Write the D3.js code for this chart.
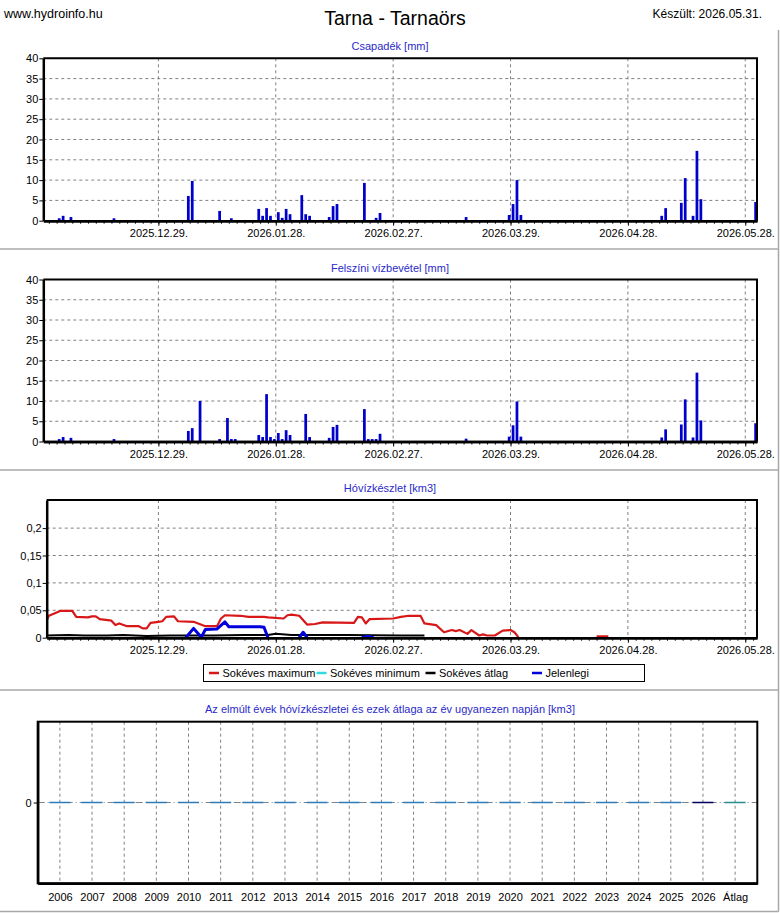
<!DOCTYPE html>
<html>
<head>
<meta charset="utf-8">
<script src="https://cdn.jsdelivr.net/npm/d3@7"></script>
<style>
  body { margin: 0; background: #fff; }
  svg text { font-family: "Liberation Sans", Arial, sans-serif; }
</style>
</head>
<body>
<script>
// ---- adatok ----
const tickLabels = ['2025.12.29.', '2026.01.28.', '2026.02.27.', '2026.03.29.', '2026.04.28.', '2026.05.28.']

// Csapadék [mm]
const csapDates = ['2025-12-03', '2025-12-04', '2025-12-06', '2025-12-17', '2026-01-05', '2026-01-06', '2026-01-13', '2026-01-16',
    '2026-01-23', '2026-01-24', '2026-01-25', '2026-01-26', '2026-01-28', '2026-01-29', '2026-01-30', '2026-01-31',
    '2026-02-03', '2026-02-04', '2026-02-05', '2026-02-10', '2026-02-11', '2026-02-12', '2026-02-19', '2026-02-22',
    '2026-02-23', '2026-03-17', '2026-03-28', '2026-03-29', '2026-03-30', '2026-03-31', '2026-05-06', '2026-05-07',
    '2026-05-11', '2026-05-12', '2026-05-14', '2026-05-15', '2026-05-16', '2026-05-30']
const csapValues = [0.6, 1.2, 0.9, 0.6, 6.1, 9.8, 2.4, 0.6,
    2.9, 1.2, 3.1, 1.2, 2.1, 0.7, 2.9, 1.6,
    6.3, 1.6, 1.2, 0.9, 3.6, 4.1, 9.3, 0.7,
    1.9, 0.9, 1.4, 4.1, 10.0, 1.4, 1.2, 3.1,
    4.4, 10.5, 1.2, 17.2, 5.3, 4.6]

// Felszíni vízbevétel [mm]
const vizDates = ['2025-12-03', '2025-12-04', '2025-12-06', '2025-12-17', '2026-01-05', '2026-01-06', '2026-01-08', '2026-01-13',
    '2026-01-15', '2026-01-16', '2026-01-17', '2026-01-23', '2026-01-24', '2026-01-25', '2026-01-26', '2026-01-27',
    '2026-01-28', '2026-01-29', '2026-01-30', '2026-01-31', '2026-02-04', '2026-02-05', '2026-02-10', '2026-02-11',
    '2026-02-12', '2026-02-19', '2026-02-20', '2026-02-21', '2026-02-22', '2026-02-23', '2026-03-17', '2026-03-28',
    '2026-03-29', '2026-03-30', '2026-03-31', '2026-05-06', '2026-05-07', '2026-05-11', '2026-05-12', '2026-05-14',
    '2026-05-15', '2026-05-16', '2026-05-30']
const vizValues = [0.6, 1.1, 0.9, 0.6, 2.6, 3.3, 10.0, 0.6,
    5.8, 0.6, 0.6, 1.6, 1.1, 11.7, 1.1, 0.6,
    2.1, 0.6, 2.8, 1.6, 6.8, 1.1, 0.9, 3.6,
    4.1, 8.0, 0.6, 0.6, 0.6, 1.9, 0.7, 1.2,
    4.0, 9.9, 1.2, 1.0, 3.0, 4.2, 10.4, 1.0,
    17.0, 5.2, 4.5]

// Hóvízkészlet [km3] - Sokéves maximum
const maxDates = ['2025-11-30', '2025-12-01', '2025-12-03', '2025-12-04', '2025-12-07', '2025-12-08', '2025-12-11', '2025-12-12',
    '2025-12-13', '2025-12-14', '2025-12-17', '2025-12-18', '2025-12-19', '2025-12-21', '2025-12-24', '2025-12-25',
    '2025-12-26', '2025-12-27', '2025-12-29', '2025-12-30', '2025-12-31', '2026-01-02', '2026-01-03', '2026-01-07',
    '2026-01-10', '2026-01-13', '2026-01-14', '2026-01-15', '2026-01-19', '2026-01-21', '2026-01-25', '2026-01-26',
    '2026-01-30', '2026-01-31', '2026-02-01', '2026-02-03', '2026-02-05', '2026-02-07', '2026-02-09', '2026-02-17',
    '2026-02-18', '2026-02-19', '2026-02-20', '2026-02-21', '2026-02-27', '2026-03-01', '2026-03-03', '2026-03-06',
    '2026-03-07', '2026-03-10', '2026-03-12', '2026-03-14', '2026-03-15', '2026-03-16', '2026-03-18', '2026-03-19',
    '2026-03-21', '2026-03-22', '2026-03-23', '2026-03-25', '2026-03-27', '2026-03-29', '2026-03-30', '2026-03-31',
    '2026-04-01', '2026-04-20', '2026-04-23']
const maxValues = [0.025, 0.040, 0.046, 0.049, 0.049, 0.038, 0.037, 0.039,
    0.039, 0.034, 0.031, 0.023, 0.026, 0.021, 0.021, 0.017,
    0.017, 0.027, 0.029, 0.030, 0.038, 0.039, 0.030, 0.029,
    0.021, 0.021, 0.035, 0.041, 0.040, 0.038, 0.038, 0.037,
    0.035, 0.041, 0.042, 0.040, 0.024, 0.025, 0.028, 0.027,
    0.038, 0.037, 0.026, 0.034, 0.035, 0.038, 0.040, 0.040,
    0.026, 0.023, 0.010, 0.014, 0.012, 0.014, 0.007, 0.014,
    0.004, 0.006, 0.004, 0.004, 0.013, 0.014, 0.010, 0.001,
    null, 0.0025, 0.0025]

// Sokéves átlag
const atlagDates = ['2025-11-30', '2025-12-06', '2025-12-10', '2025-12-16', '2025-12-20', '2025-12-26', '2026-01-01', '2026-01-12',
    '2026-01-20', '2026-01-26', '2026-01-28', '2026-02-01', '2026-02-15', '2026-03-01', '2026-03-07']
const atlagValues = [0.004, 0.005, 0.004, 0.004, 0.005, 0.003, 0.004, 0.004,
    0.005, 0.005, 0.007, 0.005, 0.005, 0.004, 0.004]

// Jelenlegi
const jelenDates = ['2026-01-05', '2026-01-07', '2026-01-09', '2026-01-10', '2026-01-13', '2026-01-15', '2026-01-16', '2026-01-24',
    '2026-01-25', '2026-01-26', '2026-01-27', '2026-02-03', '2026-02-04', '2026-02-05', '2026-02-06', '2026-02-19',
    '2026-02-20', '2026-02-21', '2026-02-22']
const jelenValues = [0.000, 0.017, 0.001, 0.015, 0.016, 0.029, 0.020, 0.020,
    0.019, 0.000, null, 0.000, 0.010, 0.000, null, 0.000,
    0.002, 0.002, 0.000]

// Az elmúlt évek hóvízkészletei
const yearCats = ['2006', '2007', '2008', '2009', '2010', '2011', '2012', '2013', '2014', '2015', '2016',
    '2017', '2018', '2019', '2020', '2021', '2022', '2023', '2024', '2025', '2026', 'Átlag']
const yearValues = [0, 0, 0, 0, 0, 0, 0, 0, 0, 0, 0, 0, 0, 0, 0, 0, 0, 0, 0, 0, 0, 0]

// ---- rajz ----
const FONT = '"Liberation Sans", Arial, sans-serif'
const TITLE_COLOR = '#2a2ac8'
const GRID = '#808080'
let parse = d3.timeParse('%Y-%m-%d')
let parseTick = d3.timeParse('%Y.%m.%d.')
let gridDates = tickLabels.map(parseTick)
let minorDates = d3.range(-28, 154, 2).map(i => d3.timeDay.offset(gridDates[0], i))

let svg = d3.select('body').append('svg')
    .attr('width', 780)
    .attr('height', 913)

// fejléc
svg.append('text').attr('x', 4).attr('y', 17.5).attr('font-size', 12.5).text('www.hydroinfo.hu')
svg.append('text').attr('x', 395).attr('y', 24.5).attr('font-size', 19.5).attr('text-anchor', 'middle').text('Tarna - Tarnaörs')
svg.append('text').attr('x', 762).attr('y', 17.5).attr('font-size', 12).attr('text-anchor', 'end').text('Készült: 2026.05.31.')

// panel elválasztók
;[249, 470, 690, 911.5].forEach(yy => {
    svg.append('line').attr('x1', 0).attr('x2', 778.5).attr('y1', yy).attr('y2', yy)
        .attr('stroke', '#a8a8a8').attr('stroke-width', 1.5)
})
svg.append('line').attr('x1', 778.5).attr('x2', 778.5).attr('y1', 30).attr('y2', 911.5)
    .attr('stroke', '#a8a8a8').attr('stroke-width', 1.5)

let tStart = new Date(2025, 10, 29, 14), tEnd = new Date(2026, 4, 31)
let xBase = d3.scaleTime().domain([tStart, tEnd]).range([43.3, 757])

// idősoros panel: rács, jelölő réteg, tengelyek
function timePanel(o) {
    let x = d3.scaleTime().domain([xBase.invert(o.left), tEnd]).range([o.left, 757])
    let y = d3.scaleLinear().domain(o.yDomain).range([o.bottom, o.top])
    let id = 'clip' + Math.round(o.top)

    svg.append('text').attr('x', 390).attr('y', o.top - 8).attr('font-size', 11)
        .attr('text-anchor', 'middle').attr('fill', TITLE_COLOR).text(o.title)

    svg.append('clipPath').attr('id', id).append('rect')
        .attr('x', o.left).attr('y', o.top).attr('width', 757 - o.left).attr('height', o.bottom - o.top)

    let grid = svg.append('g')
    o.yTicks.filter(v => v > 0 && v < o.yDomain[1]).forEach(v => {
        grid.append('line').attr('x1', o.left).attr('x2', 757).attr('y1', y(v)).attr('y2', y(v))
    })
    gridDates.forEach(d => {
        grid.append('line').attr('x1', x(d)).attr('x2', x(d)).attr('y1', o.top).attr('y2', o.bottom)
    })
    grid.selectAll('line').attr('stroke', GRID).attr('stroke-dasharray', '3,3').attr('stroke-width', 1)

    let marks = svg.append('g').attr('clip-path', 'url(#' + id + ')')

    let axes = svg.append('g')
    // keret
    axes.append('path')
        .attr('d', `M${o.left},${o.top}H757V${o.bottom}`)
        .attr('fill', 'none').attr('stroke', '#000').attr('stroke-width', 2)
    let yAx = axes.append('g').attr('transform', `translate(${o.left},0)`)
        .call(d3.axisLeft(y).tickValues(o.yTicks).tickSize(4).tickSizeOuter(0).tickPadding(1).tickFormat(o.fmt))
    let xMinor = axes.append('g').attr('transform', `translate(0,${o.bottom})`)
        .call(d3.axisBottom(x).tickValues(minorDates.filter(d => d >= x.domain()[0])).tickSize(3).tickSizeOuter(0).tickFormat(''))
    let xMajor = axes.append('g').attr('transform', `translate(0,${o.bottom})`)
        .call(d3.axisBottom(x).tickValues(gridDates).tickSize(5).tickSizeOuter(0).tickPadding(4).tickFormat((d, i) => tickLabels[i]))
    ;[yAx, xMinor, xMajor].forEach(a => {
        a.attr('font-family', FONT).attr('font-size', 11)
        a.select('.domain').attr('stroke-width', 2.5)
        a.selectAll('text').attr('fill', '#000')
    })
    return { x, y, marks }
}

function barPanel(top, bottom, title, dates, values) {
    let p = timePanel({
        top, bottom, left: 43.3, title,
        yDomain: [0, 40], yTicks: d3.range(0, 41, 5), fmt: d3.format('d')
    })
    dates.forEach((s, i) => {
        let d0 = parse(s)
        let x0 = p.x(d0), x1 = p.x(d3.timeDay.offset(d0, 1))
        p.marks.append('rect')
            .attr('x', x0 + (x1 - x0) * 0.3)
            .attr('y', p.y(values[i]))
            .attr('width', (x1 - x0) * 0.7)
            .attr('height', p.y(0) - p.y(values[i]))
            .attr('fill', '#0000cc')
    })
}

barPanel(58.3, 220.7, 'Csapadék [mm]', csapDates, csapValues)
barPanel(279.5, 441.5, 'Felszíni vízbevétel [mm]', vizDates, vizValues)

// Hóvízkészlet
let hp = timePanel({
    top: 500, bottom: 637.7, left: 46.7, title: 'Hóvízkészlet [km3]',
    yDomain: [0, 0.2513], yTicks: [0, 0.05, 0.1, 0.15, 0.2], fmt: d => String(d).replace('.', ',')
})
function drawLine(dates, values, color, width) {
    let pts = dates.map((s, i) => ({ d: parse(s), v: values[i] }))
    hp.marks.append('path')
        .datum(pts)
        .attr('d', d3.line().defined(p => p.v !== null).x(p => hp.x(p.d)).y(p => hp.y(p.v)))
        .attr('fill', 'none').attr('stroke', color).attr('stroke-width', width)
        .attr('stroke-linejoin', 'round')
}
drawLine(maxDates, maxValues, '#d81818', 2.2)
drawLine(atlagDates, atlagValues, '#000', 2)
drawLine(jelenDates, jelenValues, '#0000dd', 3)

// jelmagyarázat
let leg = svg.append('g')
leg.append('rect').attr('x', 203.5).attr('y', 664.5).attr('width', 441).attr('height', 17)
    .attr('fill', '#fff').attr('stroke', '#000').attr('stroke-width', 1)
let legItems = [
    { name: 'Sokéves maximum', color: '#d81818', x: 209 },
    { name: 'Sokéves minimum', color: '#30d8e0', x: 316.5 },
    { name: 'Sokéves átlag', color: '#000', x: 425.5 },
    { name: 'Jelenlegi', color: '#0000dd', x: 532 }
]
legItems.forEach(it => {
    leg.append('line').attr('x1', it.x).attr('x2', it.x + 10).attr('y1', 673).attr('y2', 673)
        .attr('stroke', it.color).attr('stroke-width', 2.5)
    leg.append('text').attr('x', it.x + 13.5).attr('y', 677).attr('font-size', 11).text(it.name)
})

// Az elmúlt évek hóvízkészletei
let top4 = 721.7, bottom4 = 883.3, left4 = 37.7, right4 = 757.3
svg.append('text').attr('x', 390).attr('y', 713).attr('font-size', 11)
    .attr('text-anchor', 'middle').attr('fill', TITLE_COLOR)
    .text('Az elmúlt évek hóvízkészletei és ezek átlaga az év ugyanezen napján [km3]')
let xc = d3.scalePoint().domain(yearCats).range([left4, right4]).padding(0.69)
let yc = d3.scaleLinear().domain([-1, 1]).range([bottom4, top4])
let g4 = svg.append('g')
yearCats.forEach(c => {
    g4.append('line').attr('x1', xc(c)).attr('x2', xc(c)).attr('y1', top4).attr('y2', bottom4)
        .attr('stroke', GRID).attr('stroke-dasharray', '3,3')
})
g4.append('line').attr('x1', left4).attr('x2', right4).attr('y1', yc(0)).attr('y2', yc(0))
    .attr('stroke', GRID).attr('stroke-dasharray', '7,3,1,3')
yearCats.forEach((c, i) => {
    let v = yearValues[i]
    let col = c === 'Átlag' ? '#2a8c8c' : (c === '2026' ? '#000060' : '#2c7cbc')
    g4.append('rect')
        .attr('x', xc(c) - 10.5)
        .attr('y', Math.min(yc(v), yc(0)) - 0.75)
        .attr('width', 21)
        .attr('height', Math.max(1.5, Math.abs(yc(v) - yc(0))))
        .attr('fill', col)
})
g4.append('rect').attr('x', left4).attr('y', top4).attr('width', right4 - left4).attr('height', bottom4 - top4)
    .attr('fill', 'none').attr('stroke', '#000').attr('stroke-width', 2)
let yAx4 = g4.append('g').attr('transform', `translate(${left4},0)`)
    .call(d3.axisLeft(yc).tickValues([0]).tickSize(4).tickSizeOuter(0).tickPadding(2).tickFormat(d3.format('d')))
let xAx4 = g4.append('g').attr('transform', `translate(0,${bottom4})`)
    .call(d3.axisBottom(xc).tickSize(0).tickSizeOuter(0).tickPadding(10))
;[yAx4, xAx4].forEach(a => {
    a.attr('font-family', FONT).attr('font-size', 11)
    a.select('.domain').attr('stroke-width', 2.5)
    a.selectAll('text').attr('fill', '#000')
})
</script>
</body>
</html>
